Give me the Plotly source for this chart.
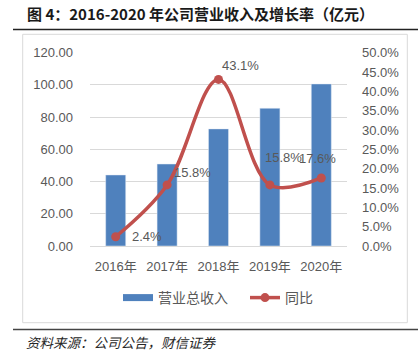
import plotly.graph_objects as go

W, H = 418, 356
def px(x): return x / W
def py(y): return 1 - y / H

years = ["2016年", "2017年", "2018年", "2019年", "2020年"]
revenue = [44.1, 50.9, 72.7, 85.5, 100.6]
growth = [2.4, 15.8, 43.1, 15.8, 17.6]
left_ticks = [0, 20, 40, 60, 80, 100, 120]
right_ticks = [0, 5, 10, 15, 20, 25, 30, 35, 40, 45, 50]

FONT = "Liberation Sans, Noto Sans CJK SC, sans-serif"
GRAY = "#595959"
BLUE = "#4F81BD"
RED = "#C0504D"

fig = go.Figure()
fig.add_trace(go.Bar(x=years, y=revenue, marker_color=BLUE, name="营业总收入",
                     showlegend=False, yaxis="y"))
# legend-only entry to mimic wide rectangle symbol
fig.add_trace(go.Scatter(x=[None], y=[None], mode="lines", name="营业总收入",
                         line=dict(color=BLUE, width=7), yaxis="y"))
fig.add_trace(go.Scatter(x=years, y=growth, mode="lines+markers", name="同比",
                         line=dict(color=RED, width=3.5, shape="spline", smoothing=1),
                         marker=dict(color=RED, size=9), yaxis="y2"))

# data labels (offsets relative to each point)
shifts = [(14, 0), (5, 12), (1, 14), (-7, 27), (-24, 19)]
for xv, yv, (dx, dy) in zip(years, growth, shifts):
    fig.add_annotation(x=xv, y=yv, xref="x", yref="y2", text=f"{yv:.1f}%",
                       showarrow=False, xanchor="left", yanchor="middle",
                       xshift=dx, yshift=dy, font=dict(family=FONT, size=13, color=GRAY))

# title / footer
fig.add_annotation(x=px(25), y=py(14), xref="paper", yref="paper",
                   text="<b>图 4：2016-2020 年公司营业收入及增长率（亿元）</b>",
                   showarrow=False, xanchor="left", yanchor="middle",
                   font=dict(family="Noto Sans CJK SC", size=15, color="#1a1a1a"))
fig.add_annotation(x=px(24), y=py(342), xref="paper", yref="paper",
                   text="<i>资料来源：公司公告，财信证券</i>",
                   showarrow=False, xanchor="left", yanchor="middle",
                   font=dict(family="Noto Sans CJK SC", size=13.5, color="#262626"))

fig.add_shape(type="line", xref="paper", yref="paper", x0=px(13), x1=px(418),
              y0=py(29.5), y1=py(29.5), line=dict(color="#222", width=1.5))
fig.add_shape(type="line", xref="paper", yref="paper", x0=px(13), x1=px(418),
              y0=py(329.5), y1=py(329.5), line=dict(color="#444", width=1.5))
fig.add_shape(type="rect", xref="paper", yref="paper", x0=px(22.7), x1=px(407.3),
              y0=py(322.7), y1=py(34.3), line=dict(color="#D9D9D9", width=1))

fig.update_layout(
    width=W, height=H, margin=dict(l=0, r=0, t=0, b=0),
    paper_bgcolor="white", plot_bgcolor="white",
    bargap=0.61,
    font=dict(family=FONT, size=13, color=GRAY),
    showlegend=True,
    legend=dict(orientation="h", x=px(118), y=py(298), xanchor="left", yanchor="middle",
                font=dict(family=FONT, size=14, color=GRAY), itemwidth=30,
                entrywidth=82, entrywidthmode="pixels",
                bgcolor="rgba(0,0,0,0)", tracegroupgap=0),
    xaxis=dict(domain=[px(90), px(347)], showgrid=False, showline=True,
               linecolor="#D9D9D9", linewidth=1, ticks="", ticklabelstandoff=8,
               tickfont=dict(family=FONT, size=13, color=GRAY), automargin=False),
    yaxis=dict(range=[0, 120], tickvals=left_ticks,
               ticktext=[f"{v:.2f}" for v in left_ticks],
               domain=[py(246), py(52.7)], showgrid=True, gridcolor="#D9D9D9",
               gridwidth=1, zeroline=False, showline=False, ticks="",
               ticklabelstandoff=16, automargin=False,
               tickfont=dict(family=FONT, size=13, color=GRAY)),
    yaxis2=dict(range=[0, 50], tickvals=right_ticks,
                ticktext=[f"{v:.1f}%" for v in right_ticks],
                overlaying="y", side="right", showgrid=False, zeroline=False,
                showline=False, ticks="", ticklabelstandoff=14, automargin=False,
                tickfont=dict(family=FONT, size=13, color=GRAY)),
)

fig.write_html("out.html", config={"displayModeBar": False},
               post_script="document.body.style.margin='0';document.body.style.overflow='hidden';")
